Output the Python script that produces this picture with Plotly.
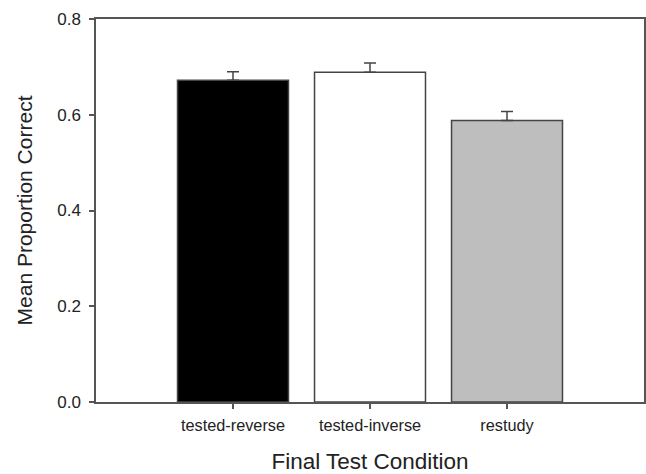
import plotly.graph_objects as go

categories = ["tested-reverse", "tested-inverse", "restudy"]
means = [0.672, 0.689, 0.588]
errors = [0.018, 0.019, 0.019]
colors = ["#000000", "#ffffff", "#bebebe"]
y_ticks = [0.0, 0.2, 0.4, 0.6, 0.8]
y_tick_labels = ["0.0", "0.2", "0.4", "0.6", "0.8"]

axis_color = "#555555"
font_family = "Liberation Sans, Arial, sans-serif"

fig = go.Figure()
fig.add_trace(go.Bar(
    x=list(range(len(categories))),
    y=means,
    width=0.81,
    marker=dict(color=colors, line=dict(color="#444444", width=1.5)),
    error_y=dict(type="data", symmetric=False, array=errors,
                 arrayminus=[0] * len(errors),
                 color="#444444", thickness=1.5, width=6),
    showlegend=False,
))

fig.update_layout(
    width=646, height=474,
    margin=dict(l=96, r=2, t=19, b=72),
    plot_bgcolor="white", paper_bgcolor="white",
    font=dict(family=font_family, color="#222222"),
    xaxis=dict(
        range=[-1, 3],
        automargin=False,
        tickvals=list(range(len(categories))),
        ticktext=categories,
        ticks="outside", ticklen=5, tickcolor=axis_color, tickwidth=1.5,
        showline=True, linecolor=axis_color, linewidth=1.5, mirror=True,
        showgrid=False, zeroline=False,
        tickfont=dict(size=16.3),
        ticklabelstandoff=3,
        title=dict(text="Final Test Condition", font=dict(size=22.5), standoff=27),
    ),
    yaxis=dict(
        range=[0, 0.8],
        automargin=False,
        tickvals=y_ticks,
        ticktext=y_tick_labels,
        ticks="outside", ticklen=5, tickcolor=axis_color, tickwidth=1.5,
        showline=True, linecolor=axis_color, linewidth=1.5, mirror=True,
        showgrid=False, zeroline=False,
        tickfont=dict(size=17),
        ticklabelstandoff=5,
        title=dict(text="Mean Proportion Correct", font=dict(size=21), standoff=19),
    ),
)

fig.write_html("out.html")
